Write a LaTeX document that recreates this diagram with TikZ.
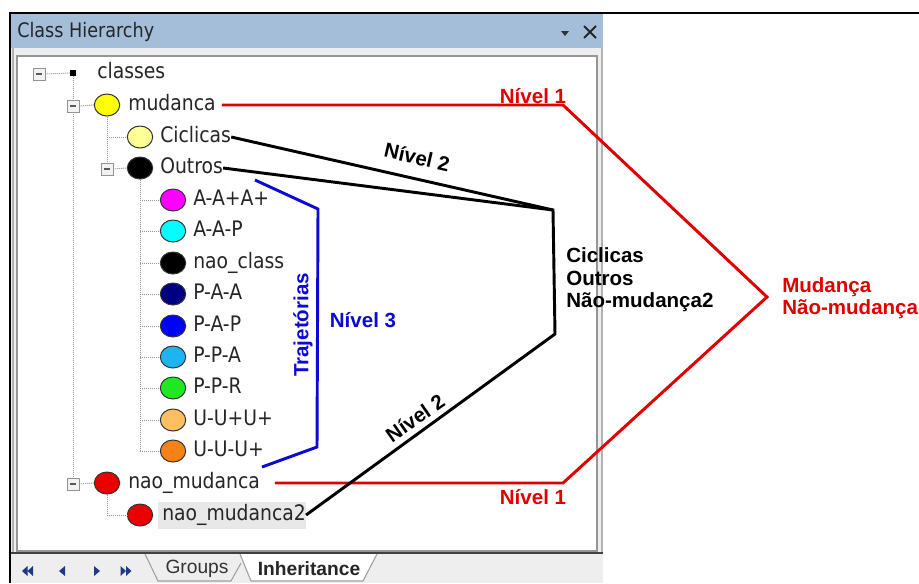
\documentclass[tikz,border=0pt]{standalone}
\usepackage{fontspec}
\setmainfont{Liberation Sans}
\newfontfamily\treefont[FakeStretch=0.88]{DejaVu Sans}
\usetikzlibrary{shapes.geometric}
\definecolor{titlebar}{RGB}{164,190,218}
\definecolor{panelgray}{RGB}{238,238,238}
\definecolor{boxgray}{RGB}{150,150,150}
\definecolor{treegray}{RGB}{150,150,150}
\definecolor{selgray}{RGB}{232,232,232}
\definecolor{navbtn}{RGB}{26,58,138}
\definecolor{lblred}{RGB}{225,0,0}
\definecolor{lblblue}{RGB}{10,10,210}
\definecolor{cyell}{RGB}{255,255,0}
\definecolor{cpale}{RGB}{255,255,150}
\definecolor{cmag}{RGB}{255,0,255}
\definecolor{ccyan}{RGB}{0,255,255}
\definecolor{cnavy}{RGB}{0,0,128}
\definecolor{cblue}{RGB}{0,0,255}
\definecolor{clblue}{RGB}{30,180,240}
\definecolor{cgreen}{RGB}{32,232,32}
\definecolor{clorange}{RGB}{255,190,95}
\definecolor{corange}{RGB}{245,130,25}
\definecolor{cred}{RGB}{235,0,0}
\begin{document}
\begin{tikzpicture}[x=0.75pt,y=-0.75pt,
  circ/.style={ellipse, draw=black!80, line width=0.75pt, minimum width=19pt, minimum height=16.5pt, inner sep=0pt},
  minusbox/.style={rectangle, draw=gray!85, fill=gray!10, minimum size=9pt, inner sep=0pt,
    path picture={\draw[black!65, line width=0.9pt] ([xshift=-2.5pt]path picture bounding box.center) -- ([xshift=2.5pt]path picture bounding box.center);}},
  ttext/.style={font=\treefont\fontsize{16}{18}\selectfont, text=black!85, inner sep=0pt, anchor=west, text height=11.5pt, text depth=3.2pt},
  tree/.style={draw=treegray, line width=0.75pt, dash pattern=on 0.75pt off 0.75pt},
  lbl/.style={font=\bfseries\fontsize{15.4}{16.9}\selectfont, inner sep=0pt},
  conn/.style={line width=2.2pt, line join=miter},
  tabline/.style={draw=gray!75, line width=0.8pt}
]
\useasboundingbox (0,0) rectangle (919,583);
\fill[white] (0,0) rectangle (919,583);
% window panel
\fill[panelgray] (10,13) rectangle (603,583);
\fill[titlebar] (10,13) rectangle (603,48);
\draw[gray!60, line width=0.8pt] (602,48) -- (602,553);
\draw[gray!60, line width=0.8pt] (13,48) -- (13,553);
\filldraw[fill=white, draw=boxgray, line width=0.8pt] (17,56) rectangle (597,551);
% title bar text and buttons
\node[font=\treefont\fontsize{15}{17}\selectfont, text=black!85, inner sep=0pt, anchor=base west] (title) at (17,37) {Class Hierarchy};
\fill[black!80] (561,31) -- (569,31) -- (565,36) -- cycle;
\draw[black!85, line width=1.5pt] (584,26) -- (596,38) (596,26) -- (584,38);
% tab strip
\draw[gray!50!black, line width=0.8pt] (10,553) -- (603,553);
\draw[tabline] (145,554) -- (158,581) -- (231,581) -- (241,563);
\filldraw[fill=white, tabline] (240,554) -- (251,581) -- (363,581) -- (377,554);
\node[font=\fontsize{14.4}{16}\selectfont, text=black!80, inner sep=0pt] (tgroups) at (197,569) {Groups};
\node[font=\bfseries\fontsize{14.4}{16}\selectfont, text=black!85, inner sep=0pt] (tinh) at (309,569) {Inheritance};
\fill[navbtn] (22,571) -- (27.5,566) -- (27.5,576) -- cycle (27.5,571) -- (33,566) -- (33,576) -- cycle;
\fill[navbtn] (59,571) -- (65,566) -- (65,576) -- cycle;
\fill[navbtn] (100,571) -- (94,566) -- (94,576) -- cycle;
\fill[navbtn] (126,571) -- (120.5,566) -- (120.5,576) -- cycle (131.5,571) -- (126,566) -- (126,576) -- cycle;
% selection highlight
\fill[selgray] (158,502) rectangle (306,529);
% ---------- tree ----------
\node[minusbox] (bcls) at (39,74) {};
\node[fill=black, minimum size=4pt, inner sep=0pt] (sqcls) at (73,73) {};
\node[ttext] (tcls) at (97,73) {classes};
\node[minusbox] (bmud) at (73,106) {};
\node[circ, fill=cyell] (cmud) at (107,105) {};
\node[ttext] (tmud) at (128,105) {mudanca};
\node[circ, fill=cpale] (ccic) at (140,137) {};
\node[ttext] (tcic) at (160,137) {Ciclicas};
\node[minusbox] (bout) at (107,169) {};
\node[circ, fill=black] (cout) at (140,168) {};
\node[ttext] (tout) at (160,168) {Outros};
\node[circ, fill=cmag] (c1) at (173,200) {};
\node[ttext] (t1) at (193,200) {A-A+A+};
\node[circ, fill=ccyan] (c2) at (173,231) {};
\node[ttext] (t2) at (193,231) {A-A-P};
\node[circ, fill=black] (c3) at (173,263) {};
\node[ttext] (t3) at (193,263) {nao\_class};
\node[circ, fill=cnavy] (c4) at (173,294) {};
\node[ttext] (t4) at (193,294) {P-A-A};
\node[circ, fill=cblue] (c5) at (173,326) {};
\node[ttext] (t5) at (193,326) {P-A-P};
\node[circ, fill=clblue] (c6) at (173,357) {};
\node[ttext] (t6) at (193,357) {P-P-A};
\node[circ, fill=cgreen] (c7) at (173,388) {};
\node[ttext] (t7) at (193,388) {P-P-R};
\node[circ, fill=clorange] (c8) at (173,420) {};
\node[ttext] (t8) at (193,420) {U-U+U+};
\node[circ, fill=corange] (c9) at (173,451) {};
\node[ttext] (t9) at (193,451) {U-U-U+};
\node[minusbox] (bnm) at (73,484) {};
\node[circ, fill=cred] (cnm) at (107,483) {};
\node[ttext] (tnm) at (128,483) {nao\_mudanca};
\node[circ, fill=cred] (cnm2) at (140,515) {};
\node[ttext] (tnm2) at (162,515) {nao\_mudanca2};
% dotted tree lines
\draw[tree] (bcls.east) -- (sqcls.west);
\draw[tree] (sqcls.south) -- (bmud.north);
\draw[tree] (bmud.south) -- (bnm.north);
\draw[tree] (bmud.east) -- (cmud.west);
\draw[tree] (cmud.south) -- (bout.north);
\draw[tree] (cmud.south |- ccic) -- (ccic.west);
\draw[tree] (bout.east) -- (cout.west);
\draw[tree] (cout.south) -- (cout.south |- c9);
\foreach \c in {c1,c2,c3,c4,c5,c6,c7,c8,c9}{\draw[tree] (cout.south |- \c) -- (\c.west);}
\draw[tree] (bnm.east) -- (cnm.west);
\draw[tree] (cnm.south) -- (cnm.south |- cnm2) -- (cnm2.west);
% ---------- annotation lines ----------
\coordinate (r1) at (563,105);
\coordinate (apex) at (767,297);
\coordinate (r2) at (563,483);
\draw[conn, lblred] ([xshift=4.5pt]tmud.east) -- (tmud.east -| r1) -- (apex) -- (r2) -- ([xshift=11pt]tnm.east);
\coordinate (b1) at (553,210);
\coordinate (b2) at (555,334);
\draw[conn, black] (tcic.east) -- (b1);
\draw[conn, black] (tout.east) -- (b1) -- (b2) -- (tnm2.east);
\coordinate (u1) at (255,180);
\coordinate (u2) at (318,209);
\coordinate (u3) at (317,447);
\coordinate (u4) at (262,467);
\draw[conn, lblblue] (u1) -- (u2) -- (u3) -- (u4);
% ---------- labels ----------
\node[lbl, text=lblred, anchor=base] (n1a) at (533,103) {Nível 1};
\node[lbl, text=lblred, anchor=base] (n1b) at (533,504) {Nível 1};
\node[lbl, text=black, rotate=-12.7] (n2a) at (417,157) {Nível 2};
\node[lbl, text=black, rotate=35] (n2b) at (415,418) {Nível 2};
\node[lbl, text=lblblue, anchor=base] (n3) at (363,327) {Nível 3};
\node[lbl, text=lblblue, rotate=90] (traj) at (303,325) {Trajetórias};
\node[lbl, text=black, align=left, anchor=west] (lv2) at (566,280) {Ciclicas\\Outros\\Não-mudança2};
\node[lbl, text=lblred, align=left, anchor=west] (lv1) at (782,298) {Mudança\\Não-mudança};
% outer black border
\draw[black, line width=1.6pt] (10,583) -- (10,13) -- (919,13);
\end{tikzpicture}
\end{document}
